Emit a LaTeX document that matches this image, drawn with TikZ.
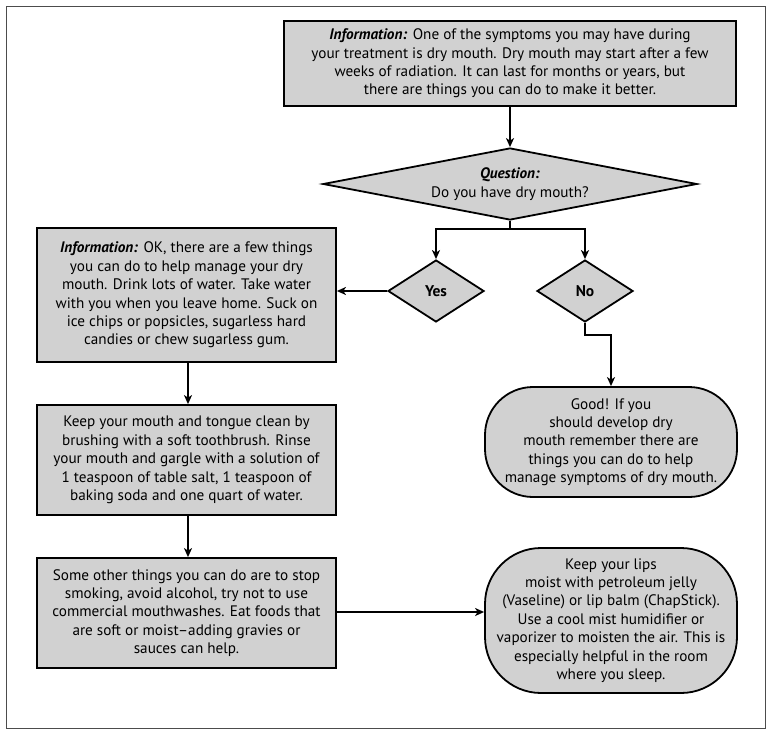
\documentclass[tikz,border=0pt]{standalone}
\usepackage{fontspec}
\setmainfont{PT Sans}
\usetikzlibrary{shapes.geometric,arrows.meta}
\begin{document}
\begin{tikzpicture}[x=1pt,y=-1pt,
  every node/.style={font=\fontsize{15.2}{18.4}\selectfont, align=center, inner sep=0pt},
  shade/.style={fill=black!18, draw=black, line width=1.8pt},
  box/.style={shade, rectangle},
  pill/.style={shade, rectangle, rounded corners=48pt},
  decide/.style={shade, diamond},
  conn/.style={line width=2pt, -{Stealth[length=9pt,width=8pt,inset=2.5pt]}},
  plain/.style={line width=2pt}]
\useasboundingbox (0,0) rectangle (770,736);
\draw[line width=1pt, black!70] (6,6) rectangle (765,728);

\node[box, minimum width=452pt, minimum height=85pt] (top) at (510,63.5)
  {\textbf{\textit{Information:}} One of the symptoms you may have during\\
   your treatment is dry mouth. Dry mouth may start after a few\\
   weeks of radiation. It can last for months or years, but\\
   there are things you can do to make it better.};

\node[decide, minimum width=374pt, minimum height=72pt, aspect=5.2] (q) at (510,184)
  {\textbf{\textit{Question:}}\\ Do you have dry mouth?};

\node[decide, minimum width=96pt, minimum height=62pt, aspect=1.55, font=\fontsize{15.5}{18}\selectfont\bfseries] (yes) at (436,291) {Yes};
\node[decide, minimum width=96pt, minimum height=62pt, aspect=1.55, font=\fontsize{15.5}{18}\selectfont\bfseries] (no) at (585,291) {No};

\node[box, minimum width=299pt, minimum height=134pt] (b1) at (186.5,295)
  {\textbf{\textit{Information:}} OK, there are a few things\\
   you can do to help manage your dry\\
   mouth. Drink lots of water. Take water\\
   with you when you leave home. Suck on\\
   ice chips or popsicles, sugarless hard\\
   candies or chew sugarless gum.};

\node[box, minimum width=299pt, minimum height=110pt] (b2) at (186.5,460)
  {Keep your mouth and tongue clean by\\
   brushing with a soft toothbrush. Rinse\\
   your mouth and gargle with a solution of\\
   1 teaspoon of table salt, 1 teaspoon of\\
   baking soda and one quart of water.};

\node[box, minimum width=299pt, minimum height=110pt] (b3) at (186.5,613)
  {Some other things you can do are to stop\\
   smoking, avoid alcohol, try not to use\\
   commercial mouthwashes. Eat foods that\\
   are soft or moist--adding gravies or\\
   sauces can help.};

\node[pill, minimum width=252pt, minimum height=110pt] (good) at (611,442)
  {Good! If you\\
   should develop dry\\
   mouth remember there are\\
   things you can do to help\\
   manage symptoms of dry mouth.};

\node[pill, rounded corners=56pt, minimum width=252pt, minimum height=145pt] (lips) at (611,620.5)
  {Keep your lips\\
   moist with petroleum jelly\\
   (Vaseline) or lip balm (ChapStick).\\
   Use a cool mist humidifier or\\
   vaporizer to moisten the air. This is\\
   especially helpful in the room\\
   where you sleep.};

\draw[conn] (top) -- (q);
\draw[plain] (q.south) -- ++(0,8) coordinate (br);
\draw[conn] (br) -| (yes.north);
\draw[conn] (br) -| (no.north);
\draw[conn] (yes.west) -- (yes.west -| b1.east);
\draw[conn] (b1.south -| 188,0) -- (b2.north -| 188,0);
\draw[conn] (b2.south -| 188,0) -- (b3.north -| 188,0);
\draw[conn] (no.south) -- ++(0,12) -| (good.north);
\draw[conn] (b3.east |- 0,612) -- (lips.west |- 0,612);
\end{tikzpicture}
\end{document}
